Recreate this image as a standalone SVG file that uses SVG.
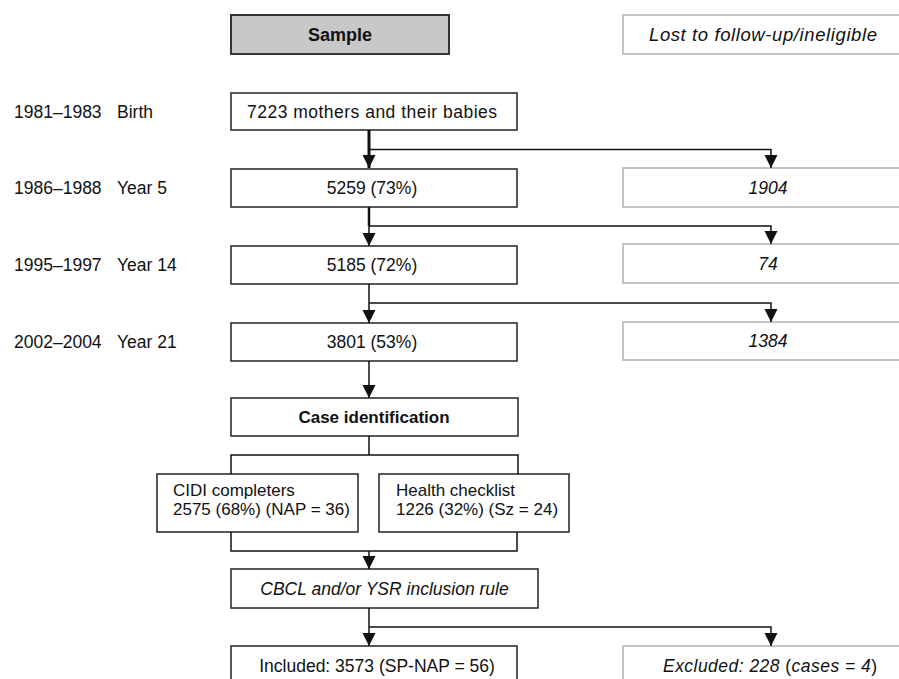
<svg xmlns="http://www.w3.org/2000/svg" width="899" height="679" viewBox="0 0 899 679">
<style>
text{font-family:"Liberation Sans",Arial,sans-serif;font-size:17.5px;fill:#111}
.c{text-anchor:middle}
.b{font-weight:bold}
.i{font-style:italic}
.s{font-size:17px}
.box{fill:#fff;stroke:#222;stroke-width:1.5}
.lost{fill:#fff;stroke:#c4c4c4;stroke-width:2}
.hdr{fill:#c8c8c8;stroke:#333;stroke-width:2}
.ln{fill:none;stroke:#111;stroke-width:1.5}
.thick{fill:none;stroke:#111;stroke-width:3}
</style>
<defs>
<marker id="ah" markerUnits="userSpaceOnUse" markerWidth="14" markerHeight="14" viewBox="0 -7 13 14" refX="13" refY="0" orient="auto">
<path d="M0,-6.5 L13,0 L0,6.5 z" fill="#111"/>
</marker>
</defs>

<g id="labels">
<text x="14" y="117.5">1981–1983</text><text x="117" y="117.5">Birth</text>
<text x="14" y="194">1986–1988</text><text x="117" y="194">Year 5</text>
<text x="14" y="271">1995–1997</text><text x="117" y="271">Year 14</text>
<text x="14" y="348">2002–2004</text><text x="117" y="348">Year 21</text>
</g>

<g id="header-sample"><rect class="hdr" x="231" y="15" width="218" height="39"/><text class="c b" x="340" y="41" style="font-size:18px">Sample</text></g>
<g id="header-lost"><rect class="lost" x="623" y="15" width="290" height="39"/><text class="i" x="649" y="41" style="font-size:18.5px" textLength="228">Lost to follow-up/ineligible</text></g>

<g id="n-birth"><rect class="box" x="231" y="93" width="286" height="37"/><text class="c" x="372" y="117.5" textLength="250">7223 mothers and their babies</text></g>
<g id="n-y5"><rect class="box" x="231" y="169" width="286" height="38"/><text class="c" x="372" y="194">5259 (73%)</text></g>
<g id="n-y14"><rect class="box" x="231" y="246" width="286" height="38"/><text class="c" x="372" y="271">5185 (72%)</text></g>
<g id="n-y21"><rect class="box" x="231" y="323" width="286" height="38"/><text class="c" x="372" y="348">3801 (53%)</text></g>

<g id="l-y5"><rect class="lost" x="623" y="168" width="290" height="39"/><text class="c i" x="768" y="193.5">1904</text></g>
<g id="l-y14"><rect class="lost" x="623" y="244" width="290" height="39"/><text class="c i" x="768" y="269.5">74</text></g>
<g id="l-y21"><rect class="lost" x="623" y="322" width="290" height="38"/><text class="c i" x="768" y="347">1384</text></g>

<g id="n-case"><rect class="box" x="231" y="398" width="287" height="38"/><text class="c b" x="374" y="423" style="font-size:17px">Case identification</text></g>
<g id="n-cidi"><rect class="box" x="157" y="474" width="201" height="58"/><text class="s" x="173" y="496">CIDI completers</text><text class="s" x="173" y="515">2575 (68%) (NAP = 36)</text></g>
<g id="n-health"><rect class="box" x="379" y="474" width="190" height="58"/><text class="s" x="396" y="496">Health checklist</text><text class="s" x="396" y="515">1226 (32%) (Sz = 24)</text></g>
<g id="n-cbcl"><rect class="box" x="231" y="569" width="307" height="39"/><text class="c i" x="384.5" y="594.5">CBCL and/or YSR inclusion rule</text></g>
<g id="n-included"><rect class="box" x="231" y="646" width="286" height="50"/><text class="c" x="377" y="672">Included: 3573 (SP-NAP = 56)</text></g>
<g id="n-excluded"><rect class="lost" x="623" y="646" width="290" height="50"/><text class="c" x="770" y="672" textLength="214"><tspan class="i">Excluded: 228 </tspan>(<tspan class="i">cases = 4</tspan>)</text></g>

<g id="connectors">
<line class="thick" x1="369" y1="130" x2="369" y2="168" marker-end="url(#ah)"/>
<polyline class="ln" points="369,149.5 771,149.5 771,168" marker-end="url(#ah)"/>
<line class="thick" x1="369" y1="207" x2="369" y2="226" style="stroke-width:2.5"/>
<line class="ln" x1="369" y1="226" x2="369" y2="246" marker-end="url(#ah)"/>
<polyline class="ln" points="369,226 771,226 771,244" marker-end="url(#ah)"/>
<line class="ln" x1="369" y1="284" x2="369" y2="323" marker-end="url(#ah)"/>
<polyline class="ln" points="369,303 771,303 771,322" marker-end="url(#ah)"/>
<line class="ln" x1="369" y1="361" x2="369" y2="398" marker-end="url(#ah)"/>
<polyline class="ln" points="369,436 369,455"/>
<polyline class="ln" points="231,474 231,455 518,455 518,474"/>
<polyline class="ln" points="231,532 231,551 517,551 517,532"/>
<line class="ln" x1="369" y1="551" x2="369" y2="569" marker-end="url(#ah)"/>
<line class="ln" x1="369" y1="608" x2="369" y2="646" marker-end="url(#ah)"/>
<polyline class="ln" points="369,627 771,627 771,646" marker-end="url(#ah)"/>
</g>
</svg>
